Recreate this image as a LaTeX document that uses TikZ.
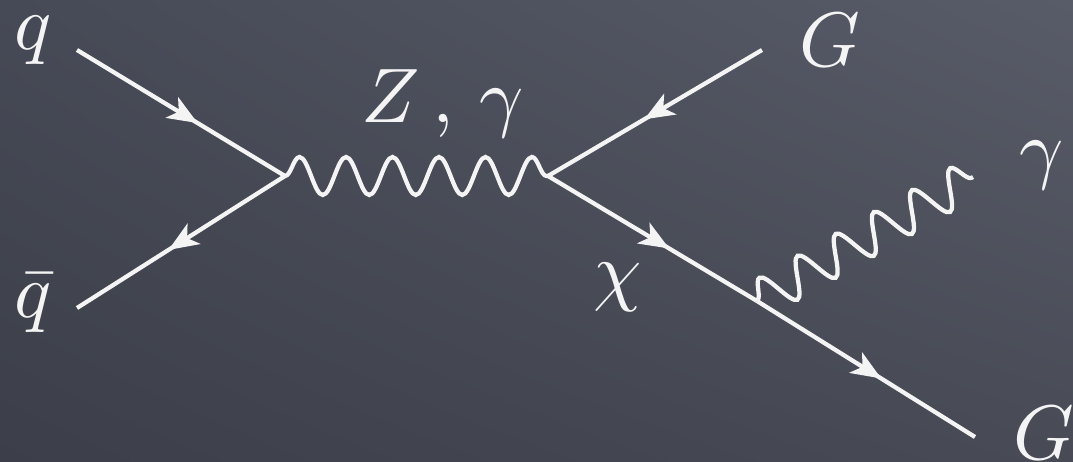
\documentclass[tikz,border=0pt]{standalone}
\usepackage{amsmath}
\usetikzlibrary{arrows.meta,decorations.markings,decorations.pathmorphing,shadings}
\definecolor{boardul}{RGB}{70,74,86}
\definecolor{boardur}{RGB}{88,92,104}
\definecolor{boardll}{RGB}{60,63,73}
\definecolor{boardlr}{RGB}{72,75,86}
\definecolor{chalk}{RGB}{244,244,244}

\begin{document}
\begin{tikzpicture}[x=0.02cm,y=-0.02cm,
  every node/.style={scale=4.4,text=chalk,inner sep=0pt},
  fermion/.style={draw=chalk,line width=0.085cm,postaction={decorate},
    decoration={markings,mark=at position #1 with {\arrow{Stealth[length=0.6cm,width=0.48cm,inset=0.16cm]}}}},
  fermion/.default=0.56,
  photon/.style={draw=chalk,line width=0.085cm,decorate,
    decoration={snake,segment length=#1,amplitude=0.38cm}},
  photon/.default=0.93cm]
% blackboard
\shade[upper left=boardul,upper right=boardur,lower left=boardll,lower right=boardlr]
  (0,0) rectangle (1073,462);
\useasboundingbox (0,0) rectangle (1073,462);
% vertices and line ends
\coordinate (q) at (77,50);
\coordinate (qb) at (77,308);
\coordinate (A) at (285,176);
\coordinate (B) at (548,176);
\coordinate (Gt) at (762,50);
\coordinate (C) at (757,301);
\coordinate (Gb) at (975,437);
\coordinate (ga) at (973,177);
% lines
\draw[fermion=0.58] (q) -- (A);
\draw[fermion=0.56] (A) -- (qb);
\draw[photon] (A) -- (B);
\draw[fermion=0.55] (Gt) -- (B);
\draw[fermion=0.58] (B) -- (C);
\draw[fermion=0.57] (C) -- (Gb);
\draw[photon=0.88cm] (C) -- (ga);
% labels
\node[anchor=base west] (lq) at (13,50) {$q$};
\node[anchor=base west] (lqb) at (13,318) {$\bar q$};
\node[anchor=base west] (lZ) at (360,123) {$Z\,,\,\gamma$};
\node[anchor=base west] (lGt) at (798,67) {$G$};
\node[anchor=base west] (lchi) at (592,297) {$\chi$};
\node[anchor=base west] (lga) at (1018,175) {$\gamma$};
\node[anchor=base west] (lGb) at (1012,460) {$G$};
\end{tikzpicture}
\end{document}
